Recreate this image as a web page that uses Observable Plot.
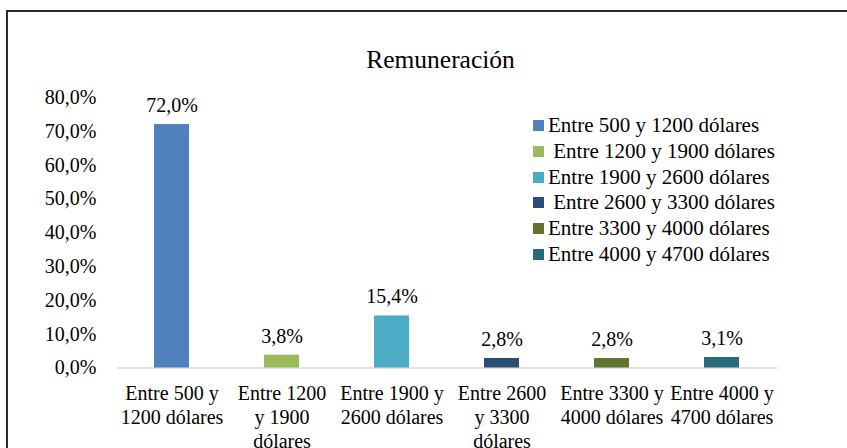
<!DOCTYPE html>
<html>
<head>
<meta charset="utf-8">
<script src="https://cdn.jsdelivr.net/npm/d3@7"></script>
<script src="https://cdn.jsdelivr.net/npm/@observablehq/plot@0.6"></script>
<style>
  html, body { margin: 0; padding: 0; background: #fff; }
  #wrap { position: relative; width: 847px; height: 448px; overflow: hidden; font-family: "Liberation Serif", "Times New Roman", serif; color: #000; }
  #frame { position: absolute; left: 6px; top: 10px; width: 900px; height: 500px; border-top: 2px solid #2b2b2b; border-left: 2px solid #2b2b2b; }
  #title { position: absolute; left: 440.5px; top: 45px; transform: translateX(-50%); font-size: 25.5px; white-space: nowrap; }
  #chart { position: absolute; left: 0; top: 0; }
  #legend { position: absolute; left: 533px; top: 113px; font-size: 21px; }
  #legend .row { display: flex; align-items: center; height: 25.7px; white-space: pre; }
  #legend .sw { width: 11px; height: 11px; margin-right: 4px; flex: none; }
</style>
</head>
<body>
<div id="wrap">
  <div id="frame"></div>
  <div id="chart"></div>
  <div id="title"></div>
  <div id="legend"></div>
</div>
<script>
const titleText = "Remuneración";
const categories = [
  "Entre 500 y 1200 dólares",
  "Entre 1200 y 1900 dólares",
  "Entre 1900 y 2600 dólares",
  "Entre 2600 y 3300 dólares",
  "Entre 3300 y 4000 dólares",
  "Entre 4000 y 4700 dólares"
];
const values = [72.0, 3.8, 15.4, 2.8, 2.8, 3.1];
const xTickLabels = [
  "Entre 500 y\n1200 dólares",
  "Entre 1200\ny 1900\ndólares",
  "Entre 1900 y\n2600 dólares",
  "Entre 2600\ny 3300\ndólares",
  "Entre 3300 y\n4000 dólares",
  "Entre 4000 y\n4700 dólares"
];
const legendLabels = [
  "Entre 500 y 1200 dólares",
  " Entre 1200 y 1900 dólares",
  "Entre 1900 y 2600 dólares",
  " Entre 2600 y 3300 dólares",
  "Entre 3300 y 4000 dólares",
  "Entre 4000 y 4700 dólares"
];
const yTicks = [0, 10, 20, 30, 40, 50, 60, 70, 80];
const colors = ["#4F81BD", "#9BBB59", "#4BACC6", "#2C4D75", "#5F7530", "#276A7C"];

const data = categories.map((c, i) => ({cat: c, value: values[i]}));
const fmt = d => d.toFixed(1).replace(".", ",") + "%";

const plot = Plot.plot({
  width: 847,
  height: 448,
  marginTop: 97,
  marginBottom: 80.5,
  marginLeft: 117,
  marginRight: 70,
  style: {fontFamily: "'Liberation Serif', 'Times New Roman', serif", fontSize: "20px", color: "#000", background: "transparent"},
  x: {domain: categories, paddingInner: 0.68, paddingOuter: 0.34, label: null},
  y: {domain: [0, 80], label: null},
  color: {domain: categories, range: colors},
  marks: [
    Plot.axisY({ticks: yTicks, tickSize: 0, tickPadding: 21, tickFormat: fmt, label: null, fontSize: 20}),
    Plot.axisX({tickSize: 0, tickPadding: 15, tickFormat: d => xTickLabels[categories.indexOf(d)], lineHeight: 1.2, label: null, fontSize: 20}),
    Plot.ruleY([0], {stroke: "#d9d9d9", strokeWidth: 1.5}),
    Plot.barY(data, {x: "cat", y: "value", fill: "cat"}),
    Plot.text(data, {x: "cat", y: "value", text: d => fmt(d.value), dy: -19, fontSize: 20, fill: "#000"})
  ]
});
document.getElementById("chart").appendChild(plot);
document.getElementById("title").textContent = titleText;

const color = plot.scale("color");
const legend = document.getElementById("legend");
categories.forEach((c, i) => {
  const row = document.createElement("div");
  row.className = "row";
  const sw = document.createElement("span");
  sw.className = "sw";
  sw.style.background = colors[color.domain.indexOf(c)];
  const t = document.createElement("span");
  t.textContent = legendLabels[i];
  row.appendChild(sw);
  row.appendChild(t);
  legend.appendChild(row);
});
</script>
</body>
</html>
